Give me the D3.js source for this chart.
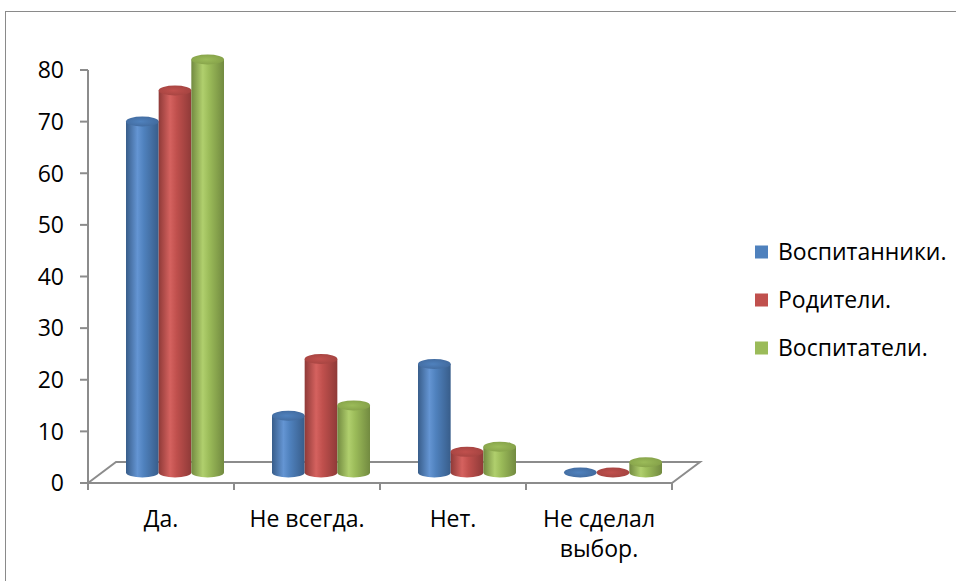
<!DOCTYPE html>
<html>
<head>
<meta charset="utf-8">
<script src="https://cdn.jsdelivr.net/npm/d3@7"></script>
<style>
  html, body { margin: 0; padding: 0; background: #fff; }
  svg { display: block; }
  text { font-family: "Open Sans", "Noto Sans", sans-serif; fill: #000; }
</style>
</head>
<body>
<svg id="chart" width="956" height="581"></svg>
<script>
// ---- data ----
const categories = ["Да.", "Не всегда.", "Нет.", "Не сделал выбор."];
const seriesNames = ["Воспитанники.", "Родители.", "Воспитатели."];
const vospitanniki = [68, 11, 21, 0];
const roditeli = [74, 22, 4, 0];
const vospitateli = [80, 13, 5, 2];
const yTicks = [0, 10, 20, 30, 40, 50, 60, 70, 80];

const seriesValues = [vospitanniki, roditeli, vospitateli];
const colors = [
  { base: "#4F81BD", dark: "#385d8a", light: "#6495d3", top: "#41699c" },
  { base: "#C0504D", dark: "#8f3a38", light: "#d5625f", top: "#a34340" },
  { base: "#9BBB59", dark: "#728a40", light: "#b0cf6d", top: "#84a048" }
];

const svg = d3.select("#chart");
const W = 956, H = 581;

// frame
svg.append("rect")
  .attr("x", 5.5).attr("y", 11.5)
  .attr("width", W + 20).attr("height", H + 20)
  .attr("fill", "none").attr("stroke", "#8a8a8a").attr("stroke-width", 1);

// scales
const x = d3.scaleBand().domain(categories).range([88, 672]).padding(0);
const y = d3.scaleLinear().domain([0, 80]).range([483, 70]);
const inner = d3.scaleBand().domain(seriesNames).range([24, x.bandwidth() - 24]).padding(0);

// 3D depth offsets
const depthX = 28, depthY = -21;
const midX = depthX / 2, midY = depthY / 2;

// gradients
const defs = svg.append("defs");
colors.forEach((c, i) => {
  const g = defs.append("linearGradient").attr("id", "body" + i)
    .attr("x1", "0%").attr("x2", "100%").attr("y1", "0%").attr("y2", "0%");
  g.append("stop").attr("offset", "0%").attr("stop-color", c.dark);
  g.append("stop").attr("offset", "35%").attr("stop-color", c.light);
  g.append("stop").attr("offset", "55%").attr("stop-color", c.base);
  g.append("stop").attr("offset", "100%").attr("stop-color", c.dark);
  const t = defs.append("radialGradient").attr("id", "top" + i)
    .attr("cx", "45%").attr("cy", "50%").attr("r", "60%");
  t.append("stop").attr("offset", "0%").attr("stop-color", c.base);
  t.append("stop").attr("offset", "100%").attr("stop-color", c.top);
});

const axisColor = "#8c8c8c";
const floor = svg.append("g").attr("stroke", axisColor).attr("stroke-width", 2).attr("fill", "none");
const x0 = x.range()[0], x1 = x.range()[1], yb = y(0);
// floor outline
floor.append("path")
  .attr("d", `M${x0},${yb} L${x0 + depthX},${yb + depthY} L${x1 + depthX},${yb + depthY} L${x1},${yb}`);
floor.append("line").attr("x1", x0 - 3).attr("x2", x1).attr("y1", yb).attr("y2", yb);
// x ticks
const xtickPos = categories.map(c => x(c)).concat([x1]);
floor.selectAll(".xt").data(xtickPos).enter().append("line")
  .attr("x1", d => d).attr("x2", d => d).attr("y1", yb).attr("y2", yb + 7);

// y axis
const yAxis = svg.append("g").attr("stroke", axisColor).attr("stroke-width", 2);
yAxis.append("line").attr("x1", x0).attr("x2", x0).attr("y1", y(80)).attr("y2", yb + 7);
yAxis.selectAll(".yt").data(yTicks).enter().append("line")
  .attr("x1", x0 - 8).attr("x2", x0).attr("y1", d => y(d)).attr("y2", d => y(d));

svg.append("g").selectAll("text").data(yTicks).enter().append("text")
  .attr("x", 64).attr("y", d => y(d)).attr("dy", "0.36em")
  .attr("text-anchor", "end").attr("font-size", 23)
  .text(d => d);

// cylinders
const rx = inner.bandwidth() / 2, ry = 5;
const bars = svg.append("g");
categories.forEach((cat, ci) => {
  seriesNames.forEach((s, si) => {
    const v = seriesValues[si][ci];
    const cx = x(cat) + midX + inner(s) + rx;
    const yBase = y(0) + midY;
    const yTop = y(v) + midY;
    const g = bars.append("g");
    if (v > 0) {
      g.append("path")
        .attr("d", `M${cx - rx},${yTop} L${cx - rx},${yBase} A${rx},${ry} 0 0 0 ${cx + rx},${yBase} L${cx + rx},${yTop} Z`)
        .attr("fill", `url(#body${si})`);
    }
    g.append("ellipse")
      .attr("cx", cx).attr("cy", yTop).attr("rx", rx).attr("ry", ry)
      .attr("fill", `url(#top${si})`);
  });
});

// category labels with wrapping
const labels = svg.append("g");
categories.forEach(cat => {
  const t = labels.append("text")
    .attr("x", x(cat) + x.bandwidth() / 2).attr("y", 527)
    .attr("text-anchor", "middle").attr("font-size", 23);
  const words = cat.split(" ");
  let line = [], lineNo = 0;
  let tspan = t.append("tspan").attr("x", x(cat) + x.bandwidth() / 2).attr("dy", 0);
  words.forEach(w => {
    line.push(w);
    tspan.text(line.join(" "));
    if (tspan.node().getComputedTextLength() > x.bandwidth() - 4 && line.length > 1) {
      line.pop();
      tspan.text(line.join(" "));
      line = [w];
      lineNo++;
      tspan = t.append("tspan").attr("x", x(cat) + x.bandwidth() / 2).attr("dy", 30).text(w);
    }
  });
});

// legend
const legend = svg.append("g");
seriesNames.forEach((s, i) => {
  const cy = 252 + i * 48;
  legend.append("rect").attr("x", 755).attr("y", cy - 6.5).attr("width", 13).attr("height", 13)
    .attr("fill", colors[i].base);
  legend.append("text").attr("x", 778).attr("y", cy).attr("dy", "0.36em")
    .attr("font-size", 23).text(s);
});
</script>
</body>
</html>
